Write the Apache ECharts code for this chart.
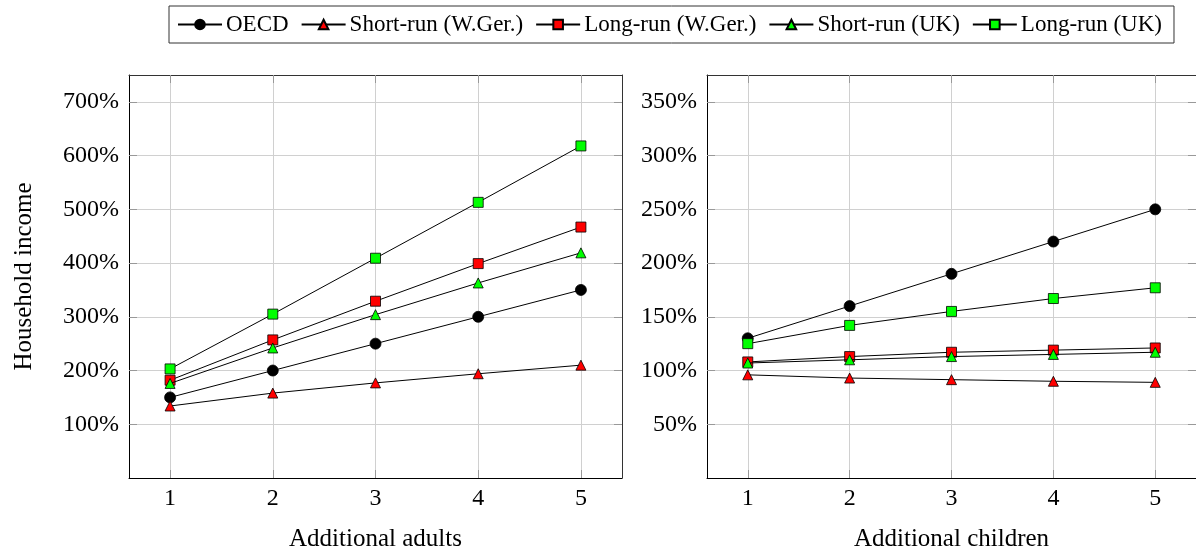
<!DOCTYPE html>
<html>
<head>
<meta charset="utf-8">
<script src="https://cdn.jsdelivr.net/npm/echarts@6/dist/echarts.min.js"></script>
<style>html,body{margin:0;padding:0;background:#fff}#c{width:1196px;height:557px}</style>
</head>
<body>
<div id="c"></div>
<script>
const xValues = [1, 2, 3, 4, 5];
const xTicks = [1, 2, 3, 4, 5];
const seriesNames = ['OECD', 'Short-run (W.Ger.)', 'Long-run (W.Ger.)', 'Short-run (UK)', 'Long-run (UK)'];
// Left panel: additional adults (household income, %)
const oecdAdults = [150, 200, 250, 300, 350];
const srWGerAdults = [134, 158, 177, 194, 210];
const lrWGerAdults = [182, 257, 329, 399, 467];
const srUKAdults = [176, 242, 304, 363, 419];
const lrUKAdults = [203, 305, 409, 513, 618];
// Right panel: additional children
const oecdChildren = [130, 160, 190, 220, 250];
const srWGerChildren = [96, 93, 91.5, 90, 89];
const lrWGerChildren = [108, 113, 117, 119, 121];
const srUKChildren = [107, 110, 113, 115, 117];
const lrUKChildren = [125, 142, 155, 167, 177];
const leftTicks = [100, 200, 300, 400, 500, 600, 700];
const rightTicks = [50, 100, 150, 200, 250, 300, 350];

const FONT = '"Liberation Serif", "Times New Roman", serif';
const styles = [
  {symbol: 'circle', size: 11, color: '#000000'},
  {symbol: 'triangle', size: 10, color: '#ff0000'},
  {symbol: 'rect', size: 10, color: '#ff0000'},
  {symbol: 'triangle', size: 10, color: '#00ff00'},
  {symbol: 'rect', size: 10, color: '#00ff00'}
];
const leftData = [oecdAdults, srWGerAdults, lrWGerAdults, srUKAdults, lrUKAdults];
const rightData = [oecdChildren, srWGerChildren, lrWGerChildren, srUKChildren, lrUKChildren];

function mkSeries(dataSets, axisIdx) {
  return dataSets.map((vals, i) => ({
    name: seriesNames[i],
    type: 'line',
    xAxisIndex: axisIdx,
    yAxisIndex: axisIdx,
    data: xValues.map((x, k) => [x, vals[k]]),
    symbol: styles[i].symbol,
    symbolSize: styles[i].size,
    lineStyle: {color: '#000', width: 1},
    itemStyle: {color: styles[i].color, borderColor: '#000', borderWidth: 0.8},
    emphasis: {disabled: true},
    animation: false,
    z: 10 + i
  }));
}

const gridLine = {show: true, lineStyle: {color: '#d0d0d0', width: 1}};
function xAxisMain(gi, name) {
  return {
    type: 'value', gridIndex: gi, min: 0.6, max: 5.4, position: 'bottom',
    axisLine: {show: true, onZero: false, lineStyle: {color: '#000', width: 1}},
    axisTick: {show: true, inside: true, length: 8, customValues: xTicks, lineStyle: {color: '#999'}},
    axisLabel: {customValues: xTicks, margin: 9, color: '#000', fontFamily: FONT, fontSize: 24},
    splitLine: gridLine,
    name: name, nameLocation: 'middle', nameGap: 49,
    nameTextStyle: {color: '#000', fontFamily: FONT, fontSize: 25}
  };
}
function xAxisTop(gi) {
  return {
    type: 'value', gridIndex: gi, min: 0.6, max: 5.4, position: 'top',
    axisLine: {show: true, onZero: false, lineStyle: {color: '#333', width: 1}},
    axisTick: {show: true, inside: true, length: 8, customValues: xTicks, lineStyle: {color: '#999'}},
    axisLabel: {show: false}, splitLine: {show: false}
  };
}
function yAxisMain(gi, max, ticks, name) {
  return {
    type: 'value', gridIndex: gi, min: 0, max: max, position: 'left',
    axisLine: {show: true, onZero: false, lineStyle: {color: '#000', width: 1}},
    axisTick: {show: true, inside: true, length: 8, customValues: ticks, lineStyle: {color: '#999'}},
    axisLabel: {customValues: ticks, margin: 10, color: '#000', fontFamily: FONT, fontSize: 24, formatter: v => v + '%'},
    splitLine: gridLine,
    name: name, nameLocation: 'middle', nameGap: 92, nameRotate: 90,
    nameTextStyle: {color: '#000', fontFamily: FONT, fontSize: 25}
  };
}
function yAxisRight(gi, max, ticks) {
  return {
    type: 'value', gridIndex: gi, min: 0, max: max, position: 'right',
    axisLine: {show: true, onZero: false, lineStyle: {color: '#333', width: 1}},
    axisTick: {show: true, inside: true, length: 8, customValues: ticks, lineStyle: {color: '#999'}},
    axisLabel: {show: false}, splitLine: {show: false}
  };
}

const chart = echarts.init(document.getElementById('c'), null, {renderer: 'canvas'});
chart.setOption({
  animation: false,
  backgroundColor: '#fff',
  legend: {
    data: seriesNames,
    left: 169, top: 6,
    padding: [7, 12, 7, 8],
    itemGap: 12,
    itemWidth: 44, itemHeight: 12,
    borderColor: '#333', borderWidth: 1,
    textStyle: {color: '#000', fontFamily: FONT, fontSize: 23, padding: [0, 0, 0, -1]},
    selectedMode: false
  },
  grid: [
    {left: 129, top: 75, width: 493, height: 410},
    {left: 707, top: 75, width: 493, height: 410}
  ],
  xAxis: [xAxisMain(0, 'Additional adults'), xAxisMain(1, 'Additional children'), xAxisTop(0), xAxisTop(1)],
  yAxis: [yAxisMain(0, 750, leftTicks, 'Household income'), yAxisMain(1, 375, rightTicks, ''), yAxisRight(0, 750, leftTicks), yAxisRight(1, 375, rightTicks)],
  series: [...mkSeries(leftData, 0), ...mkSeries(rightData, 1)]
});
</script>
</body>
</html>
